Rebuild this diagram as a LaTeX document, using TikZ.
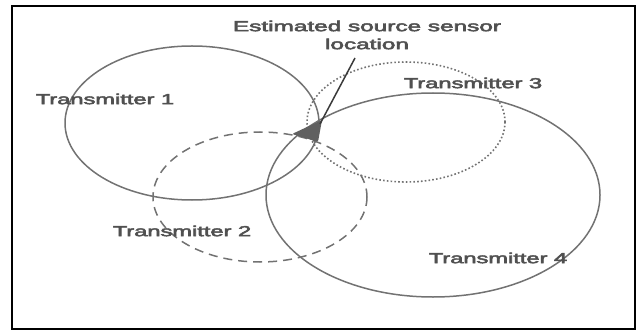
\documentclass[tikz,border=0pt]{standalone}
\usepackage{fontspec}
\setmainfont{Liberation Sans}[BoldFont={Liberation Sans},BoldFeatures={FakeBold=3}]
\usepackage{graphicx}
\definecolor{ringgray}{HTML}{727272}
\definecolor{textgray}{HTML}{505050}
\definecolor{pointer}{HTML}{3A3A3A}
\definecolor{spot}{HTML}{606060}
\begin{document}
\begin{tikzpicture}[x=1pt,y=-1pt,
  ring/.style={draw=ringgray,line width=1.5pt},
  ringdash/.style={ring,dash pattern=on 9pt off 6pt},
  ringdot/.style={ring,line width=1.6pt,dash pattern=on 1.6pt off 2.2pt},
  label/.style={text=textgray,font=\fontsize{14.5}{18}\selectfont\bfseries,inner sep=0pt,align=center}]
\useasboundingbox (0,0) rectangle (644,331);
\draw[black,line width=1.6pt] (12,6) rectangle (635,329);
% transmitter ranges
\draw[ring] (192,123) ellipse [x radius=127,y radius=77];
\draw[ringdash] (260,197) ellipse [x radius=107,y radius=65];
\draw[ringdot] (406,122) ellipse [x radius=99,y radius=60];
\draw[ring] (433,195) ellipse [x radius=167,y radius=102];
% estimated location
\fill[spot,rounded corners=2pt] (292,134) -- (322,120) -- (318,142) -- cycle;
\coordinate (est) at (320,124);
\coordinate (ptrtop) at (355,58);
\draw[pointer,line width=1.5pt] (ptrtop) -- (est);
% labels
\node[label] (title) at (367,35) {\scalebox{1.68}[1]{Estimated source sensor}\\\scalebox{1.68}[1]{location}};
\node[label] (t1) at (105,99) {\scalebox{1.63}[1]{Transmitter 1}};
\node[label] (t2) at (182,231) {\scalebox{1.63}[1]{Transmitter 2}};
\node[label] (t3) at (473,83) {\scalebox{1.63}[1]{Transmitter 3}};
\node[label] (t4) at (498,258) {\scalebox{1.63}[1]{Transmitter 4}};
\end{tikzpicture}
\end{document}
